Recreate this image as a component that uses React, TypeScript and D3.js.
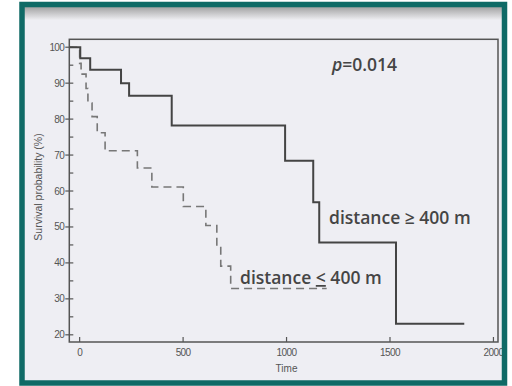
import React, { useRef, useEffect } from "react";
import { select, scaleLinear, line, curveStepAfter, range } from "d3";

// distance >= 400 m (solid)
const farTimes = [0, 3, 51, 200, 239, 445, 993, 1129, 1158, 1529];
const farSurvival = [100, 96.9, 93.7, 90, 86.5, 78.2, 68.4, 56.9, 45.7, 23.1];
const farLastTime = 1859;

// distance < 400 m (dashed)
const nearTimes = [0, 7, 31, 40, 60, 85, 123, 279, 349, 501, 610, 663, 682, 730];
const nearSurvival = [95.5, 92.5, 88.5, 84.5, 80.7, 76.2, 71.2, 66.4, 61.1, 55.7, 50.4, 44.6, 39.1, 32.9];
const nearLastTime = 1194;

const xTicks = [0, 500, 1000, 1500, 2000];
const yTicks = [20, 30, 40, 50, 60, 70, 80, 90, 100];
const yMinorTicks = [25, 35, 45, 55, 65, 75, 85, 95];

const W = 512;
const H = 386;

const App = () => {
    const svgRef = useRef(null);

    useEffect(() => {
        const svg = select(svgRef.current);
        svg.selectAll("*").remove();

        const x = scaleLinear().domain([-50, 2022]).range([69.3, 498]);
        const y = scaleLinear().domain([18, 102.2]).range([342, 39.3]);
        const [x0, x1] = x.range();
        const [yb, yt] = y.range();

        // background
        svg.append("rect").attr("width", W).attr("height", H).attr("fill", "#ffffff");
        const defs = svg.append("defs");
        const grad = defs.append("linearGradient").attr("id", "band").attr("x1", 0).attr("x2", 0).attr("y1", 0).attr("y2", 1);
        grad.append("stop").attr("offset", "0%").attr("stop-color", "#9d9d9d");
        grad.append("stop").attr("offset", "100%").attr("stop-color", "#eeeef2");
        svg.append("rect").attr("x", 22).attr("y", 4).attr("width", 482).attr("height", 379).attr("fill", "#eeeef3");
        svg.append("rect").attr("x", 22).attr("y", 6).attr("width", 482).attr("height", 14).attr("fill", "url(#band)");

        const ink = "#555";

        // plot box
        svg.append("rect")
            .attr("x", x0).attr("y", yt)
            .attr("width", x1 - x0).attr("height", yb - yt)
            .attr("fill", "none").attr("stroke", ink).attr("stroke-width", 1.5);

        // y axis ticks
        const yAxis = svg.append("g").attr("font-family", "Arial, 'Liberation Sans', sans-serif").attr("font-size", 10).attr("fill", "#555");
        yTicks.forEach(v => {
            yAxis.append("line").attr("x1", x0 - 4).attr("x2", x0 + 4).attr("y1", y(v)).attr("y2", y(v)).attr("stroke", ink).attr("stroke-width", 1.2);
            yAxis.append("text").attr("x", x0 - 5).attr("y", y(v)).attr("dy", "0.35em").attr("text-anchor", "end").attr("letter-spacing", -0.6).text(v);
        });
        yMinorTicks.forEach(v => {
            yAxis.append("line").attr("x1", x0).attr("x2", x0 + 4).attr("y1", y(v)).attr("y2", y(v)).attr("stroke", ink).attr("stroke-width", 1.2);
        });

        // x axis ticks
        const xAxis = svg.append("g").attr("font-family", "Arial, 'Liberation Sans', sans-serif").attr("font-size", 10).attr("fill", "#555");
        xTicks.forEach(v => {
            xAxis.append("line").attr("x1", x(v)).attr("x2", x(v)).attr("y1", yb).attr("y2", yb - 5).attr("stroke", ink).attr("stroke-width", 1.2);
            xAxis.append("text").attr("x", x(v)).attr("y", yb + 14).attr("text-anchor", "middle").attr("letter-spacing", -0.6).text(v);
        });
        xAxis.append("text").attr("x", x(1000)).attr("y", yb + 30).attr("text-anchor", "middle").text("Time");

        svg.append("text")
            .attr("transform", `translate(42, 187) rotate(-90)`)
            .attr("text-anchor", "middle")
            .attr("font-family", "Arial, 'Liberation Sans', sans-serif")
            .attr("font-size", 10.5)
            .attr("fill", "#555")
            .text("Survival probability (%)");

        // curves
        const stepLine = line().x(d => x(d[0])).y(d => y(d[1])).curve(curveStepAfter);

        const farPts = [[x.domain()[0], 100], ...range(farTimes.length).map(i => [farTimes[i], farSurvival[i]]), [farLastTime, farSurvival[farSurvival.length - 1]]];
        const nearPts = [[x.domain()[0], 100], ...range(nearTimes.length).map(i => [nearTimes[i], nearSurvival[i]]), [nearLastTime, nearSurvival[nearSurvival.length - 1]]];

        svg.append("path").datum(nearPts).attr("d", stepLine)
            .attr("fill", "none").attr("stroke", "#777").attr("stroke-width", 1.6).attr("stroke-dasharray", "8,5");
        svg.append("path").datum(farPts).attr("d", stepLine)
            .attr("fill", "none").attr("stroke", "#444").attr("stroke-width", 2);

        // annotations
        const ann = svg.append("g").attr("font-family", "'Open Sans', 'Noto Sans', sans-serif").attr("font-weight", 600).attr("fill", "#454545");
        const p = ann.append("text").attr("x", 332).attr("y", 71).attr("font-size", 17.5);
        p.append("tspan").attr("font-style", "italic").text("p");
        p.append("tspan").text("=0.014");

        ann.append("text").attr("x", 329).attr("y", 224).attr("font-size", 17.5).text("distance \u2265 400 m");
        const lt = ann.append("text").attr("x", 240).attr("y", 284).attr("font-size", 17.5);
        lt.append("tspan").text("distance ");
        lt.append("tspan").attr("text-decoration", "underline").text("<");
        lt.append("tspan").text(" 400 m");

        // teal frame
        svg.append("rect")
            .attr("x", 22).attr("y", 4.5).attr("width", 482.5).attr("height", 378.5)
            .attr("fill", "none").attr("stroke", "#0f6a66").attr("stroke-width", 5.5);
    }, []);

    return (
        <svg ref={svgRef} width={W} height={H} style={{ display: "block", position: "absolute", left: 0, top: 0 }} />
    );
};

export default App;
